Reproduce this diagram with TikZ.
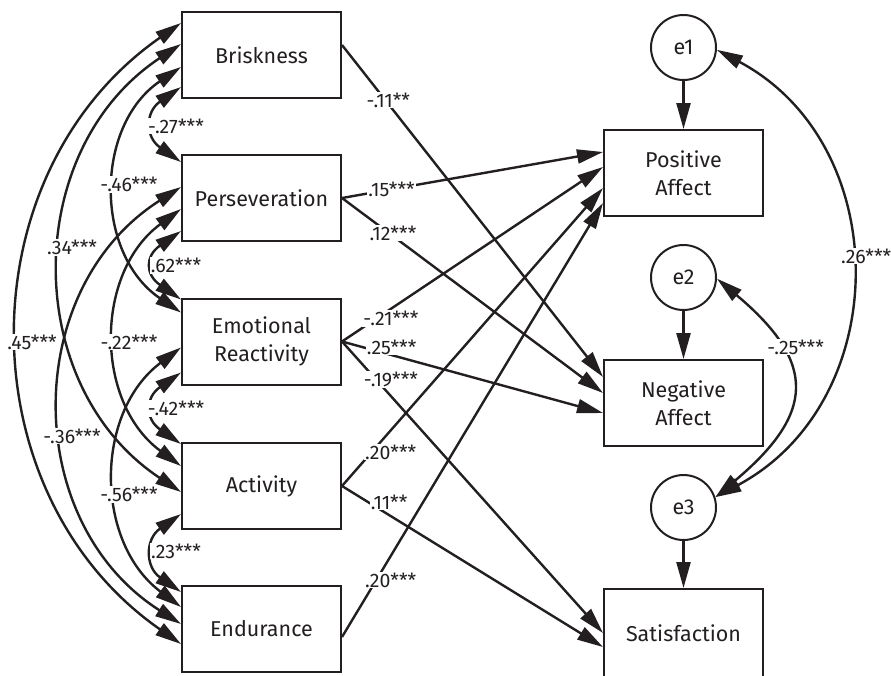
\documentclass[tikz,border=0pt]{standalone}
\usepackage{fontspec}
\setmainfont{Fira Sans}
\usetikzlibrary{arrows.meta}
\definecolor{ink}{RGB}{35,31,32}

\begin{document}
\begin{tikzpicture}[x=1pt,y=-1pt]
    \tikzset{var/.style = {shape=rectangle,draw=ink,line width=2pt,minimum width=159pt,minimum height=86pt,align=center,text=ink,font=\fontsize{21.5}{28}\selectfont}}
    \tikzset{err/.style = {shape=circle,draw=ink,line width=2pt,minimum size=65pt,inner sep=0pt,text=ink,font=\fontsize{21.5}{28}\selectfont}}
    \tikzset{edge/.style = {-{Triangle[length=26pt,width=14pt]},line width=2.4pt,draw=ink}}
    \tikzset{cov/.style = {{Triangle[length=26pt,width=14pt]}-{Triangle[length=26pt,width=14pt]},line width=2.4pt,draw=ink}}
    \tikzset{coef/.style = {fill=white,inner sep=1pt,text=ink,font=\fontsize{19.5}{19.5}\selectfont}}
    \useasboundingbox (0,0) rectangle (891,675);
    % predictors
    \node[var] (brisk) at (261.5,55) {Briskness};
    \node[var] (pers) at (261.5,198) {Perseveration};
    \node[var] (emo) at (261.5,341.5) {Emotional\\Reactivity};
    \node[var] (act) at (261.5,486) {Activity};
    \node[var] (endu) at (261.5,629) {Endurance};
    % outcomes
    \node[var] (pa) at (683.5,173) {Positive\\Affect};
    \node[var] (na) at (683.5,403) {Negative\\Affect};
    \node[var,minimum height=88pt] (sat) at (683.5,633) {Satisfaction};
    % residuals
    \node[err] (e1) at (683.5,47.5) {e1};
    \node[err] (e2) at (683.5,277.5) {e2};
    \node[err] (e3) at (683.5,507.5) {e3};
    % correlations between predictors
    \draw[cov] ([shift={(0,12)}]brisk.north west) .. controls +(-216,150.6) and +(-216,-150.6) .. ([shift={(0,59)}]endu.north west) node[coef,pos=.5,xshift=13pt,yshift=-8.5pt] {.45***};
    \draw[cov] ([shift={(0,33)}]brisk.north west) .. controls +(-160,106) and +(-160,-106) .. ([shift={(0,50)}]act.north west) node[coef,pos=.5,xshift=11pt,yshift=20.5pt] {.34***};
    \draw[cov] ([shift={(0,33)}]pers.north west) .. controls +(-160,102) and +(-160,-102) .. ([shift={(0,39)}]endu.north west) node[coef,pos=.5,xshift=11pt,yshift=-30.5pt] {-.36***};
    \draw[cov] ([shift={(0,56)}]brisk.north west) .. controls +(-86.7,58.7) and +(-86.7,-58.7) .. ([shift={(0,15)}]emo.north west) node[coef,pos=.5,xshift=13pt,yshift=5.5pt] {-.46***};
    \draw[cov] ([shift={(0,55)}]pers.north west) .. controls +(-86.7,63.7) and +(-86.7,-63.7) .. ([shift={(0,24)}]act.north west) node[coef,pos=.5,xshift=13pt,yshift=-4.5pt] {-.22***};
    \draw[cov] ([shift={(0,50)}]emo.north west) .. controls +(-86.7,65) and +(-86.7,-65) .. ([shift={(0,22)}]endu.north west) node[coef,pos=.5,xshift=13pt,yshift=-17pt] {-.56***};
    \draw[cov] ([shift={(0,76)}]brisk.north west) .. controls +(-36,25) and +(-36,-25) .. ([shift={(0,8)}]pers.north west) node[coef,pos=.5,xshift=22pt,yshift=-1.5pt] {-.27***};
    \draw[cov] ([shift={(0,77)}]pers.north west) .. controls +(-36,25) and +(-36,-25) .. ([shift={(0,2)}]emo.north west) node[coef,pos=.5,xshift=22pt] {.62***};
    \draw[cov] ([shift={(0,75)}]emo.north west) .. controls +(-36,25) and +(-36,-25) .. ([shift={(0,2)}]act.north west) node[coef,pos=.5,xshift=22pt] {-.42***};
    \draw[cov] ([shift={(0,72)}]act.north west) .. controls +(-36,25) and +(-36,-25) .. ([shift={(0,7)}]endu.north west) node[coef,pos=.5,xshift=22pt,yshift=2pt] {.23***};
    % paths
    \draw[edge] ([shift={(0,-10)}]brisk.east) -- ([shift={(0,-26)}]na.west) node[coef,pos=.166,xshift=3pt] {-.11**};
    \draw[edge] (pers.east) -- ([shift={(0,-21)}]pa.west) node[coef,pos=.19] {.15***};
    \draw[edge] (pers.east) -- ([shift={(0,-10)}]na.west) node[coef,pos=.18,xshift=4pt] {.12***};
    \draw[edge] (emo.east) -- ([shift={(0,-6)}]pa.west) node[coef,pos=.13,xshift=15pt] {-.21***};
    \draw[edge] (emo.east) -- ([shift={(0,10)}]na.west) node[coef,pos=.19,yshift=8pt] {.25***};
    \draw[edge] (emo.east) -- (sat.west) node[coef,pos=.13,xshift=15pt] {-.19***};
    \draw[edge] (act.east) -- ([shift={(0,15)}]pa.west) node[coef,pos=.114,xshift=19pt] {.20***};
    \draw[edge] (act.east) -- ([shift={(0,14)}]sat.west) node[coef,pos=.1,xshift=21pt] {.11**};
    \draw[edge] ([shift={(0,8)}]endu.east) -- ([shift={(0,30)}]pa.west) node[coef,pos=.131,xshift=14.5pt] {.20***};
    % residuals
    \draw[edge] (e1) -- (pa);
    \draw[edge] (e2) -- (na);
    \draw[edge] (e3) -- (sat);
    \draw[cov] (e1.-4) .. controls +(178.7,95.5) and +(178.7,-95.5) .. (e3.18) node[coef,pos=.5,xshift=16pt,yshift=17.5pt] {.26***};
    \draw[cov] (e2.-2) .. controls +(100,84) and +(100,-84) .. (e3.18) node[coef,pos=.3,xshift=16pt] {-.25***};
\end{tikzpicture}
\end{document}
